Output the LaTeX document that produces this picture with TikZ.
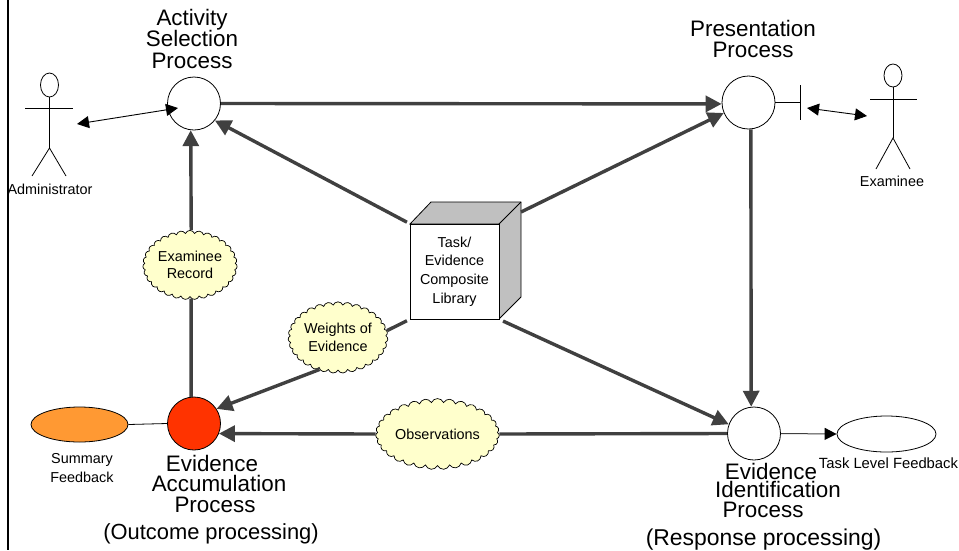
\documentclass[tikz,border=0pt]{standalone}
\usepackage{fontspec}
\setmainfont{Liberation Sans}
\usetikzlibrary{arrows.meta,shapes.symbols,shapes.geometric}
\definecolor{thickgray}{HTML}{404040}
\definecolor{cloudfill}{HTML}{FFFFCC}
\tikzset{
  procnode/.style={circle,draw=black,line width=.8pt,minimum size=53pt,inner sep=0pt,fill=white},
  bigtext/.style={inner sep=0pt,font=\fontsize{22.4}{21}\selectfont,text height=16pt,text depth=0pt,anchor=base},
  smalltext/.style={inner sep=0pt,font=\fontsize{14.4}{18.4}\selectfont,align=center},
  flow/.style={draw=thickgray,line width=3.4pt},
  flowhead/.style={flow,-{Triangle[length=16pt,width=16pt]}},
  thinarrow/.style={draw=black,line width=.9pt,{Triangle[length=12pt,width=12pt]}-{Triangle[length=12pt,width=12pt]}},
  thinline/.style={draw=black,line width=.8pt},
  puff/.style={cloud,draw=black,line width=.7pt,fill=cloudfill,cloud puffs=31,cloud puff arc=135,inner sep=0pt,
    font=\fontsize{14.4}{17.6}\selectfont,align=center},
  oval/.style={ellipse,draw=black,line width=.8pt,inner sep=0pt},
  actorline/.style={draw=black,line width=.8pt},
}
\begin{document}
\begin{tikzpicture}[x=1pt,y=-1pt]
\useasboundingbox (0,0) rectangle (959,550);
% left border
\coordinate (bt) at (8,0);
\coordinate (bb) at (8,550);
\draw[black,line width=2.4pt] (bt) -- (bb);

% process circles
\node[procnode] (act) at (194,103.5) {};
\node[procnode] (pres) at (748.5,102.5) {};
\node[procnode,fill={rgb,255:red,255;green,51;blue,0}] (acc) at (194,423.5) {};
\node[procnode] (eip) at (754,433.5) {};

% clouds
\node[puff,minimum width=90pt,minimum height=63pt,aspect=1.43] (rec) at (190,265) {Examinee\\Record};
\node[puff,minimum width=90pt,minimum height=61pt,aspect=1.47] (wgt) at (338,337.5) {Weights of\\Evidence};
\node[puff,minimum width=111pt,minimum height=58pt,aspect=1.9] (obs) at (437.5,434) {Observations};

% library box
\coordinate (lbr) at (521,212);
\draw[black,line width=.8pt,fill={rgb,255:red,192;green,192;blue,192}]
  (410,224) -- (431,202) -- (521,202) -- (521,297) -- (499,319) -- (499,224) -- cycle;
\draw[black,line width=.8pt] (499,224) -- (521,202);
\node[draw=black,line width=.8pt,fill=white,minimum width=89pt,minimum height=95pt,inner sep=0pt,
  font=\fontsize{14.4}{18.8}\selectfont,align=center] (lib) at (454.5,271.5) {Task/\\Evidence\\Composite\\Library};

% ovals
\node[oval,fill={rgb,255:red,255;green,153;blue,51},minimum width=97pt,minimum height=35pt] (sum) at (79.5,424.5) {};
\node[oval,minimum width=99pt,minimum height=36pt] (task) at (886.5,434) {};

% main flows
\draw[flowhead] (act.east) -- (pres.183);
\draw[flowhead,shorten <=3pt] (lib.north west) -- (act.-39);
\draw[flowhead] (lbr) -- (pres.203);
\draw[flowhead] (pres.-85) -- (eip.96);
\draw[flowhead,shorten <=4pt] (lib.south east) -- (eip.160);
\draw[flow,shorten <=3pt] (lib.south west) -- (wgt.8);
\draw[flowhead] (wgt.-120) -- (acc.33);
\draw[flow] (acc.96) -- (rec.-88);
\draw[flowhead] (rec.88) -- (act.-97);
\draw[flow] (eip.180) -- (obs.east);
\draw[flowhead] (obs.west) -- (acc.-22);

% thin links
\draw[thinline] (sum.east) -- (acc.west);
\draw[draw=thickgray,line width=1pt,-{Triangle[length=12pt,width=12pt,color=black]}] (eip.east) -- (task.west);

% administrator
\node[ellipse,draw=black,line width=.8pt,minimum width=18pt,minimum height=24pt,inner sep=0pt] (ahead) at (49.5,85) {};
\coordinate (ahipj) at (49.5,148);
\coordinate (aarml) at (25,108);
\coordinate (aarmr) at (73,108);
\coordinate (alegl) at (32,176);
\coordinate (alegr) at (66,176);
\draw[actorline] (ahead.south) -- (ahipj);
\draw[actorline] (aarml) -- (aarmr);
\draw[actorline] (alegl) -- (ahipj) -- (alegr);
\coordinate (adm) at (77,124);
\coordinate (admb) at (178,108);
\draw[thinarrow] (adm) -- (admb);
\node[smalltext] (admt) at (50,189) {Administrator};

% examinee
\node[ellipse,draw=black,line width=.8pt,minimum width=18pt,minimum height=23pt,inner sep=0pt] (ehead) at (893,75.5) {};
\coordinate (ehipj) at (893,138);
\coordinate (earml) at (870,99);
\coordinate (earmr) at (917,99);
\coordinate (elegl) at (876,169);
\coordinate (elegr) at (910,169);
\draw[actorline] (ehead.south) -- (ehipj);
\draw[actorline] (earml) -- (earmr);
\draw[actorline] (elegl) -- (ehipj) -- (elegr);
\coordinate (exa) at (807,108);
\coordinate (exb) at (867,116);
\draw[thinarrow] (exa) -- (exb);
\node[smalltext] (exat) at (892,181) {Examinee};

% presentation port
\coordinate (portc) at (800,102.5);
\coordinate (portt) at (800,85);
\coordinate (portb) at (800,120);
\draw[thinline] (pres.east) -- (portc);
\draw[thinline] (portt) -- (portb);

% big labels
\node[bigtext] (l1) at (192,25.5) {Activity};
\node[bigtext] (l2) at (192,46.5) {Selection};
\node[bigtext] (l3) at (192,68) {Process};
\node[bigtext] (l4) at (753,36) {Presentation};
\node[bigtext] (l5) at (753,57) {Process};
\node[bigtext] (l6) at (212,471) {Evidence};
\node[bigtext] (l7) at (219,491.5) {Accumulation};
\node[bigtext] (l8) at (215,512) {Process};
\node[bigtext,font=\fontsize{21.9}{21}\selectfont] (l9) at (211,539.5) {(Outcome processing)};
\node[bigtext] (l10) at (771,479) {Evidence};
\node[bigtext] (l11) at (778,497) {Identification};
\node[bigtext] (l12) at (763,517.5) {Process};
\node[bigtext,font=\fontsize{22.9}{21}\selectfont] (l13) at (763.5,545) {(Response processing)};

% small labels
\node[smalltext] (l14) at (82,468) {Summary\\Feedback};
\node[smalltext,font=\fontsize{14.8}{18}\selectfont] (l15) at (888.5,463) {Task Level Feedback};
\end{tikzpicture}
\end{document}
